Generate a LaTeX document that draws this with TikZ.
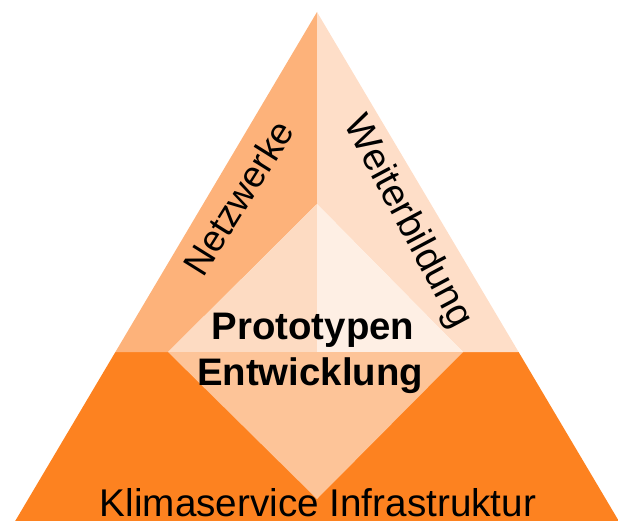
\documentclass[tikz,border=0pt]{standalone}
\usepackage{fontspec}
\setmainfont{Liberation Sans}
\definecolor{cBase}{RGB}{253,130,32}
\definecolor{cLeft}{RGB}{253,178,122}
\definecolor{cRight}{RGB}{254,222,200}
\definecolor{cInUL}{RGB}{253,219,194}
\definecolor{cInUR}{RGB}{254,239,228}
\definecolor{cInLow}{RGB}{253,196,152}
\tikzset{
  lbl/.style={inner sep=0pt, text=black},
  bigbold/.style={lbl, font=\fontsize{38.5}{46}\selectfont\bfseries, anchor=base},
}
\begin{document}
\begin{tikzpicture}[x=1bp,y=-1bp]
\useasboundingbox (0,0) rectangle (618,521);
\clip (0,0) rectangle (618,521);
% coordinates
\coordinate (apex) at (317,12);
\coordinate (bl) at (115.4,352);
\coordinate (br) at (518.6,352);
\coordinate (dt) at (317,204);
\coordinate (dl) at (168,352);
\coordinate (dr) at (463,352);
\coordinate (dm) at (317,352);
\coordinate (db) at (317,499);
% base trapezoid
\fill[cBase] (bl) -- (br) -- (618.8,521) -- (15.2,521) -- cycle;
% side bands
\fill[cLeft] (apex) -- (dt) -- (dl) -- (bl) -- cycle;
\fill[cRight] (apex) -- (br) -- (dr) -- (dt) -- cycle;
% inner diamond
\fill[cInUL] (dt) -- (dl) -- (dm) -- cycle;
\fill[cInUR] (dt) -- (dr) -- (dm) -- cycle;
\fill[cInLow] (dl) -- (dr) -- (db) -- cycle;
% labels
\node[lbl, font=\fontsize{37}{44}\selectfont, anchor=center, rotate=58] (netz) at (238.5,197.5) {Netzwerke};
\node[lbl, font=\fontsize{38.5}{46}\selectfont, anchor=center, rotate=-62] (weit) at (407.5,222.5) {Weiterbildung};
\node[bigbold] (proto) at (313,339) {Prototypen};
\node[bigbold] (entw) at (310,385) {Entwicklung};
\node[lbl, font=\fontsize{38.8}{46}\selectfont, anchor=base] (klima) at (318,516.7) {Klimaservice Infrastruktur};
\end{tikzpicture}
\end{document}
